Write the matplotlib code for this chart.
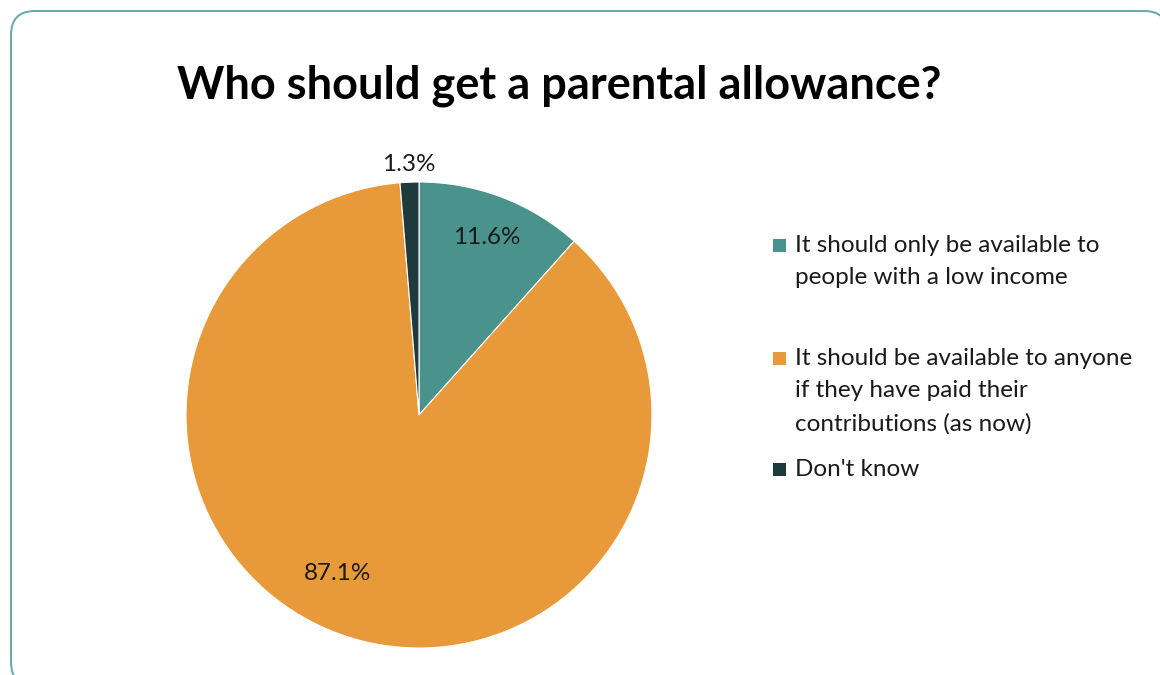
import matplotlib.pyplot as plt
from matplotlib.patches import FancyBboxPatch, Rectangle

plt.rcParams['font.family'] = ['Lato', 'DejaVu Sans']

# Dados
titulo = 'Who should get a parental allowance?'
categorias = [
    'It should only be available to\npeople with a low income',
    'It should be available to anyone\nif they have paid their\ncontributions (as now)',
    "Don't know",
]
valores = [11.6, 87.1, 1.3]
cores = ['#4A938D', '#E89A3B', '#1E3A3D']

W, H = 1160, 675
fig = plt.figure(figsize=(W / 100, H / 100), dpi=100)
fig.patch.set_facecolor('white')

# moldura arredondada: eixo de fundo em pixels (y para baixo)
ax_bg = fig.add_axes([0, 0, 1, 1])
ax_bg.set_xlim(0, W)
ax_bg.set_ylim(H, 0)
ax_bg.axis('off')
# preenchida de branco para o Agg não recortar as curvas na borda
moldura = FancyBboxPatch((11, 11), 1157, H, boxstyle='round,pad=0,rounding_size=24',
                         facecolor='white', edgecolor='#6AADA8', linewidth=1.5)
ax_bg.add_patch(moldura)

fig.text(559 / W, 1 - 86 / H, titulo, ha='center', va='center',
         fontsize=32.5, fontweight='bold', color='black')

# pizza
cx, cy, r = 419, 415, 233
ax = fig.add_axes([(cx - r) / W, 1 - (cy + r) / H, 2 * r / W, 2 * r / H])
wedges, texts, autotexts = ax.pie(
    valores, colors=cores, startangle=90, counterclock=False,
    autopct='%1.1f%%', pctdistance=0.79,
    wedgeprops={'edgecolor': 'white', 'linewidth': 0.8},
    textprops={'fontsize': 17.5, 'color': '#1a1a1a'})
ax.set_xlim(-1, 1)
ax.set_ylim(-1, 1)
ax.set_aspect('equal')

# posições dos rótulos (como no Excel)
pos_rotulos = [(0.29, 0.76), (-0.348, -0.682), (-0.043, 1.073)]
for t, p in zip(autotexts, pos_rotulos):
    t.set_position(p)
    t.set_clip_on(False)

# legenda manual
ys = [245, 358, 469]
for cat, cor, y in zip(categorias, cores, ys):
    ax_bg.add_patch(Rectangle((773, y - 6), 13, 13, facecolor=cor, edgecolor='none'))
    ax_bg.text(795, y - 10, cat, ha='left', va='top',
               fontsize=17.5, color='#1a1a1a', linespacing=1.66)

plt.savefig('out.png', dpi=100)
